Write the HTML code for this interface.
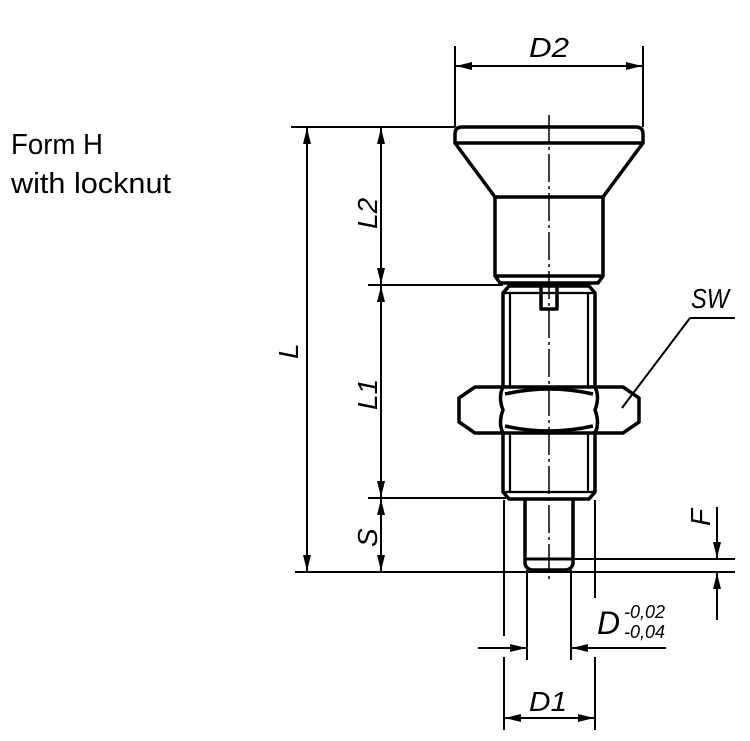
<!DOCTYPE html>
<html><head><style>html,body{margin:0;padding:0;background:#fff;}svg{display:block}</style></head>
<body>
<svg width="750" height="741" viewBox="0 0 750 741" xmlns="http://www.w3.org/2000/svg">
<defs>
<marker id="a" viewBox="0 0 16 8" refX="16" refY="4" markerWidth="16" markerHeight="8" markerUnits="userSpaceOnUse" orient="auto-start-reverse"><path d="M0,0 L16,4 L0,8 Z" fill="#000"/></marker>
</defs>
<g font-family="Liberation Sans, sans-serif" fill="#000">
<text x="11" y="154" font-size="29" textLength="92" lengthAdjust="spacingAndGlyphs">Form H</text>
<text x="11" y="193" font-size="29" textLength="160" lengthAdjust="spacingAndGlyphs">with locknut</text>
</g>
<g stroke="#000" stroke-width="2" fill="none">
<line x1="291" y1="127" x2="455" y2="127"/>
<line x1="368" y1="285" x2="503" y2="285"/>
<line x1="368" y1="498" x2="506" y2="498"/>
<line x1="295" y1="572" x2="735" y2="572"/>
<line x1="573" y1="559" x2="735" y2="559"/>
<line x1="455" y1="46" x2="455" y2="127"/>
<line x1="643" y1="46" x2="643" y2="127"/>
<line x1="504" y1="500" x2="504" y2="636"/>
<line x1="504" y1="657" x2="504" y2="730"/>
<line x1="595" y1="500" x2="595" y2="598"/>
<line x1="595" y1="657" x2="595" y2="730"/>
<line x1="527" y1="570" x2="527" y2="660"/>
<line x1="571" y1="570" x2="571" y2="660"/>
<line x1="307" y1="128" x2="307" y2="571" marker-start="url(#a)" marker-end="url(#a)"/>
<line x1="381" y1="128" x2="381" y2="284" marker-start="url(#a)" marker-end="url(#a)"/>
<line x1="381" y1="286" x2="381" y2="497" marker-start="url(#a)" marker-end="url(#a)"/>
<line x1="381" y1="499" x2="381" y2="571" marker-start="url(#a)" marker-end="url(#a)"/>
<line x1="456" y1="66" x2="642" y2="66" marker-start="url(#a)" marker-end="url(#a)"/>
<line x1="505" y1="718" x2="594" y2="718" marker-start="url(#a)" marker-end="url(#a)"/>
<line x1="478" y1="648" x2="526" y2="648" marker-end="url(#a)"/>
<line x1="666" y1="648" x2="572" y2="648" marker-end="url(#a)"/>
<line x1="717" y1="507" x2="717" y2="558" marker-end="url(#a)"/>
<line x1="717" y1="620" x2="717" y2="573" marker-end="url(#a)"/>
<line x1="622" y1="408" x2="690" y2="318"/>
<line x1="690" y1="318" x2="735" y2="318"/>
<line x1="549" y1="115" x2="549" y2="582" stroke-width="1.5" stroke-dasharray="28,4,3,4"/>
</g>
<g stroke="#000" stroke-width="3.5" fill="none" stroke-linejoin="round">
<path d="M455,143 L455,134 Q455,127 462,127 L636,127 Q643,127 643,134 L643,143 Z"/>
<path d="M455,143 L495,197 L603,197 L643,143"/>
<path d="M495,197 L495,276 L500,283 L598,283 L603,276 L603,197"/>
<line x1="496" y1="276" x2="602" y2="276"/>
<path d="M503,386 L503,293 L509,286 L589,286 L595,293 L595,386"/>
<line x1="504" y1="293" x2="594" y2="293" stroke-width="2.2"/>
<line x1="510" y1="293" x2="510" y2="386" stroke-width="2.2"/>
<line x1="588" y1="293" x2="588" y2="386" stroke-width="2.2"/>
<path d="M541,286 L541,309 L557,309 L557,286"/>
<path d="M503,433 L503,492 L509,499 L589,499 L595,492 L595,433"/>
<line x1="510" y1="433" x2="510" y2="492" stroke-width="2.2"/>
<line x1="588" y1="433" x2="588" y2="492" stroke-width="2.2"/>
<line x1="504" y1="492" x2="594" y2="492" stroke-width="2.2"/>
<path d="M459,398 L475,387 L623,387 L639,398 L639,422 L623,433 L475,433 L459,422 Z"/>
<path d="M503,387 Q498,397 503,410 Q498,423 503,433"/>
<path d="M595,387 Q600,397 595,410 Q600,423 595,433"/>
<path d="M505,394 Q549,384 593,394"/>
<path d="M505,426 Q549,436 593,426"/>
<path d="M525,499 L525,564 Q527,570 533,570 L565,570 Q571,570 573,564 L573,499"/>
<line x1="526" y1="559" x2="572" y2="559" stroke-width="3"/>
</g>
<g font-family="Liberation Sans, sans-serif" font-style="italic" fill="#000" font-size="28">
<text x="529" y="57" textLength="40" lengthAdjust="spacingAndGlyphs">D2</text>
<text x="691" y="308" textLength="38" lengthAdjust="spacingAndGlyphs">SW</text>
<text x="529" y="711" textLength="38" lengthAdjust="spacingAndGlyphs">D1</text>
<text x="597" y="634" font-size="32">D</text>
<text x="624" y="618" font-size="18">-0,02</text>
<text x="624" y="638" font-size="18">-0,04</text>
<text transform="translate(298,359) rotate(-90)">L</text>
<text transform="translate(377,229) rotate(-90)">L2</text>
<text transform="translate(377,410) rotate(-90)">L1</text>
<text transform="translate(377,547) rotate(-90)">S</text>
<text transform="translate(710,526) rotate(-90)">F</text>
</g>
</svg>
</body></html>
